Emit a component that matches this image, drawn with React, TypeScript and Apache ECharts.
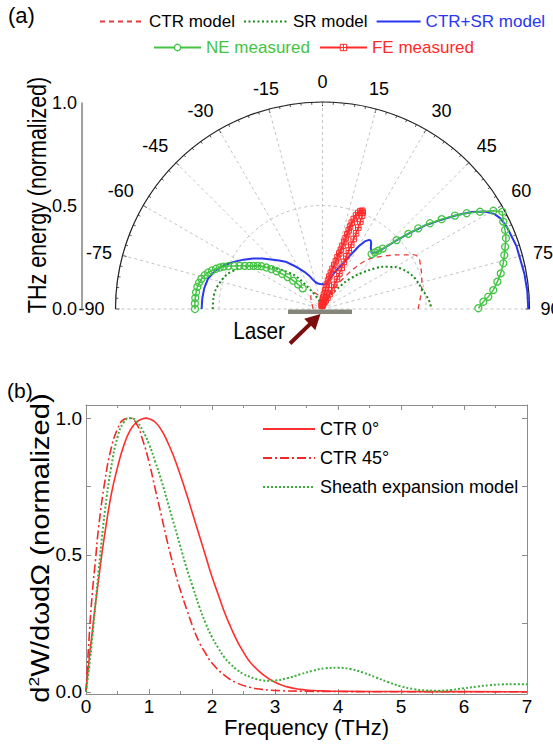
import React, { useEffect, useRef } from 'react';
import * as echarts from 'echarts';

const FF = "'Liberation Sans', Arial, sans-serif";

// ---------- (a) angular distribution: angle (deg) / normalized THz energy ----------
const ctrAngles = [-90, -75, -60, -45, -35, -28, -20, -10, 0, 10, 20, 28, 33, 37, 40, 43, 46, 50, 54, 57, 59, 61, 63, 66, 70, 75, 80, 85, 90];
const ctrEnergy = [0.045, 0.05, 0.06, 0.08, 0.09, 0.09, 0.075, 0.045, 0.02, 0.035, 0.06, 0.1, 0.16, 0.23, 0.285, 0.33, 0.36, 0.4, 0.445, 0.48, 0.51, 0.525, 0.526, 0.518, 0.509, 0.497, 0.485, 0.472, 0.462];

const srAngles = [-90, -85, -80, -75, -70, -65, -60, -55, -50, -45, -40, -37, -34, -30, -25, -20, -10, 0, 10, 20, 25, 30, 34, 37, 40, 45, 50, 55, 60, 65, 70, 75, 80, 85, 90];
const srEnergy = [0.53, 0.53, 0.525, 0.51, 0.49, 0.455, 0.415, 0.365, 0.31, 0.26, 0.215, 0.175, 0.13, 0.09, 0.06, 0.035, 0.01, 0, 0.01, 0.035, 0.055, 0.08, 0.1, 0.13, 0.17, 0.23, 0.29, 0.355, 0.405, 0.44, 0.465, 0.48, 0.495, 0.515, 0.527];

const sumAngles = [-90, -85, -80, -75, -70, -66, -62, -58, -54, -50, -46, -42, -38, -34, -30, -26, -22, -18, -14, -10, -5, 0, 5, 9, 13, 17, 21, 24.5, 27.5, 30, 32, 34, 35, 36.5, 38.5, 41.5, 43, 45, 47, 49, 51, 53, 55, 57, 59, 61, 63, 66, 72, 80, 85, 90];
const sumEnergy = [0.584, 0.583, 0.58, 0.572, 0.548, 0.52, 0.485, 0.45, 0.415, 0.38, 0.345, 0.315, 0.29, 0.255, 0.225, 0.2, 0.175, 0.148, 0.132, 0.125, 0.121, 0.12, 0.12, 0.123, 0.145, 0.175, 0.21, 0.243, 0.295, 0.35, 0.385, 0.403, 0.405, 0.395, 0.375, 0.359, 0.37, 0.41, 0.48, 0.56, 0.645, 0.715, 0.79, 0.86, 0.915, 0.948, 0.965, 0.975, 0.985, 0.99, 0.993, 0.994];

const neLeftAngles = [-90, -87.5, -85, -82.5, -80, -78, -76, -74, -72.3, -70.8, -69.3, -68, -66.8, -65.5, -64, -62.5, -61, -59.5, -58, -56.5, -55, -53.5, -52, -50.5, -49, -47.5, -46, -44.8, -43.8];
const neLeftEnergy = [0.616, 0.617, 0.617, 0.616, 0.614, 0.61, 0.603, 0.592, 0.58, 0.566, 0.55, 0.535, 0.52, 0.5, 0.474, 0.452, 0.43, 0.41, 0.393, 0.377, 0.36, 0.337, 0.313, 0.287, 0.258, 0.228, 0.197, 0.167, 0.138];
const neRightAngles = [41.8, 42.8, 43.7, 44.9, 47.1, 48.8, 49.9, 51.4, 53.0, 54.8, 56.4, 58.3, 60.1, 61.6, 64.2, 66.6, 68.9, 71.2, 73.5, 75.8, 78.7, 81.1, 83.7, 85.8, 87.4, 89.7];
const neRightEnergy = [0.356, 0.373, 0.39, 0.412, 0.489, 0.551, 0.605, 0.664, 0.721, 0.783, 0.836, 0.894, 0.952, 0.988, 0.97, 0.961, 0.95, 0.932, 0.916, 0.901, 0.878, 0.855, 0.83, 0.803, 0.778, 0.753];

const feAngles = [-12, -9, -6, -3, 0, 2, 4, 6, 8, 9, 10, 11, 12, 13, 14, 15, 15.6, 16.2, 16.8, 17.2, 17.6, 17.9, 18.1, 18.3, 18.4, 18.5, 18.7, 19.1, 19.7, 20.4, 21.2, 22, 22.6, 23, 23.4, 23.7, 23.9, 24, 24.1, 24.2, 24.3, 24.5, 24.9, 25.4, 25.9, 26, 25.7, 25.3, 23.5, 20, 15, 10, 5, 0, -5, -10];
const feEnergy = [0.015, 0.02, 0.025, 0.03, 0.035, 0.045, 0.055, 0.07, 0.09, 0.105, 0.12, 0.14, 0.16, 0.18, 0.2, 0.22, 0.24, 0.26, 0.28, 0.3, 0.32, 0.34, 0.36, 0.38, 0.4, 0.42, 0.44, 0.46, 0.48, 0.495, 0.507, 0.512, 0.505, 0.49, 0.46, 0.43, 0.4, 0.37, 0.34, 0.31, 0.28, 0.25, 0.22, 0.19, 0.16, 0.13, 0.1, 0.08, 0.06, 0.045, 0.035, 0.03, 0.025, 0.02, 0.018, 0.015];

const topYLabels = [0, 0.5, 1];
const topYStep = 0.5;

// ---------- (b) spectra: frequency (THz) / normalized d2W/dwdΩ ----------
const freqCtr0 = [0, 0.05, 0.1, 0.15, 0.2, 0.25, 0.3, 0.4, 0.5, 0.6, 0.7, 0.8, 0.9, 0.95, 1.0, 1.1, 1.2, 1.3, 1.4, 1.5, 1.6, 1.7, 1.8, 1.9, 2.0, 2.1, 2.2, 2.3, 2.4, 2.5, 2.6, 2.8, 3.0, 3.2, 3.4, 3.6, 3.8, 4.0, 5, 6, 7];
const valCtr0 = [0, 0.12, 0.22, 0.32, 0.41, 0.5, 0.58, 0.72, 0.82, 0.9, 0.955, 0.985, 0.998, 1.0, 0.998, 0.985, 0.955, 0.91, 0.855, 0.79, 0.72, 0.645, 0.57, 0.495, 0.42, 0.355, 0.29, 0.235, 0.185, 0.145, 0.11, 0.065, 0.035, 0.018, 0.009, 0.005, 0.003, 0.002, 0.001, 0.0005, 0];

const freqCtr45 = [0, 0.05, 0.1, 0.15, 0.2, 0.3, 0.4, 0.5, 0.6, 0.7, 0.8, 0.9, 1.0, 1.1, 1.2, 1.3, 1.4, 1.5, 1.6, 1.7, 1.8, 1.9, 2.0, 2.2, 2.4, 2.6, 2.8, 3.0, 3.5, 4, 5, 6, 7];
const valCtr45 = [0, 0.2, 0.36, 0.48, 0.6, 0.77, 0.89, 0.96, 0.995, 1.0, 0.98, 0.92, 0.84, 0.74, 0.64, 0.54, 0.45, 0.37, 0.3, 0.235, 0.18, 0.14, 0.105, 0.06, 0.032, 0.017, 0.009, 0.005, 0.002, 0.001, 0, 0, 0];

const freqSheath = [0, 0.05, 0.1, 0.15, 0.2, 0.3, 0.4, 0.5, 0.6, 0.7, 0.75, 0.8, 0.9, 1.0, 1.1, 1.2, 1.3, 1.4, 1.5, 1.6, 1.7, 1.8, 1.9, 2.0, 2.1, 2.2, 2.3, 2.4, 2.5, 2.6, 2.7, 2.8, 2.9, 3.0, 3.2, 3.4, 3.6, 3.8, 4.0, 4.2, 4.4, 4.6, 4.8, 5.0, 5.2, 5.4, 5.6, 5.8, 6.0, 6.2, 6.4, 6.6, 6.8, 7.0];
const valSheath = [0, 0.09, 0.2, 0.32, 0.44, 0.66, 0.82, 0.93, 0.985, 1.0, 0.998, 0.99, 0.955, 0.905, 0.84, 0.77, 0.69, 0.61, 0.53, 0.45, 0.38, 0.31, 0.25, 0.2, 0.16, 0.125, 0.1, 0.08, 0.065, 0.055, 0.047, 0.042, 0.04, 0.041, 0.05, 0.064, 0.077, 0.086, 0.088, 0.083, 0.07, 0.053, 0.035, 0.02, 0.01, 0.005, 0.004, 0.007, 0.013, 0.019, 0.024, 0.027, 0.028, 0.028];

const bottomYLabels = [0, 0.5, 1];
const bottomYTicks = [0, 0.25, 0.5, 0.75, 1];

const polarPts = (ang: number[], r: number[]) => ang.map((a, i) => [r[i], a]);
const xyPts = (x: number[], y: number[]) => x.map((v, i) => [v, y[i]]);

const C_CTR = '#e23b3b';
const C_SR = '#1a8a1a';
const C_SUM = '#2a36f2';
const C_NE = '#43c443';
const C_FE = '#ff2a2a';
const AXIS_GRAY = '#8c8c8c';
const GRID_GRAY = '#b4b4b4';

const FE_SYMBOL = 'path://M0 0H10V10H0Z M5 0V10 M0 5H10';
const HIDE_SYM = { opacity: 0 };

export default function App() {
  const ref = useRef<HTMLDivElement>(null);
  useEffect(() => {
    document.body.style.margin = '0';
    if (!ref.current) return;
    const chart = echarts.init(ref.current, undefined, { renderer: 'svg' });

    // arrow geometry (decoration)
    const tail = [290, 343.5];
    const tip = [320.5, 314];
    const L = Math.hypot(tip[0] - tail[0], tip[1] - tail[1]);
    const u = [(tip[0] - tail[0]) / L, (tip[1] - tail[1]) / L];
    const n = [-u[1], u[0]];
    const hl = 15, hw = 8, sw = 2;
    const base = [tip[0] - hl * u[0], tip[1] - hl * u[1]];
    const arrowPts = [
      [tail[0] + sw * n[0], tail[1] + sw * n[1]],
      [base[0] + sw * n[0], base[1] + sw * n[1]],
      [base[0] + hw * n[0], base[1] + hw * n[1]],
      tip,
      [base[0] - hw * n[0], base[1] - hw * n[1]],
      [base[0] - sw * n[0], base[1] - sw * n[1]],
      [tail[0] - sw * n[0], tail[1] - sw * n[1]],
    ];

    const option: any = {
      animation: false,
      backgroundColor: '#ffffff',
      textStyle: { fontFamily: FF },
      legend: [
        {
          data: [
            { name: 'CTR model', itemStyle: HIDE_SYM },
            { name: 'SR model', itemStyle: HIDE_SYM },
            { name: 'CTR+SR model', itemStyle: HIDE_SYM, textStyle: { color: C_SUM } },
          ],
          left: 94, top: 8, width: 470, itemWidth: 44, itemHeight: 10, itemGap: 8,
          textStyle: { fontFamily: FF, fontSize: 17, color: '#000' },
        },
        {
          data: [
            { name: 'NE measured', textStyle: { color: C_NE }, itemStyle: { color: '#fff', borderColor: C_NE, borderWidth: 1.3 } },
            { name: 'FE measured', textStyle: { color: C_FE }, itemStyle: { color: '#fff', borderColor: C_FE, borderWidth: 1 } },
          ],
          left: 148, top: 34, width: 400, itemWidth: 47, itemHeight: 8, itemGap: 9,
          textStyle: { fontFamily: FF, fontSize: 17 },
        },
        {
          data: [
            { name: 'CTR 0°', itemStyle: HIDE_SYM },
            { name: 'CTR 45°', itemStyle: HIDE_SYM },
            { name: 'Sheath expansion model', itemStyle: HIDE_SYM },
          ],
          orient: 'vertical', left: 257, top: 415, itemWidth: 52, itemHeight: 14, itemGap: 11,
          textStyle: { fontFamily: FF, fontSize: 18, color: '#000', lineHeight: 18 },
        },
      ],
      polar: { center: [322.5, 309], radius: 207 },
      angleAxis: {
        type: 'value', min: -90, max: 90, interval: 15,
        startAngle: 180, endAngle: 0, clockwise: true,
        axisLine: { lineStyle: { color: '#222', width: 1.2 } },
        axisTick: { show: true, inside: true, length: 4, lineStyle: { color: '#333' } },
        minorTick: { show: true, splitNumber: 5, length: 2.5, lineStyle: { color: '#555' } },
        axisLabel: { margin: 11, fontSize: 18, color: '#000', fontFamily: FF },
        splitLine: { show: true, lineStyle: { color: GRID_GRAY, type: [3, 3], width: 0.8 } },
      },
      radiusAxis: {
        type: 'value', min: 0, max: 1, interval: 0.5,
        axisLine: { show: false }, axisTick: { show: false }, axisLabel: { show: false },
        splitLine: { show: true, lineStyle: { color: GRID_GRAY, type: [3, 3], width: 0.8 } },
      },
      // vertical energy scale of panel (a): line and ticks
      singleAxis: {
        type: 'value', orient: 'vertical', position: 'left',
        left: 82, top: 103, height: 206, width: 20, min: 0, max: 1, interval: topYStep,
        axisLine: { show: true, lineStyle: { color: '#808080', width: 1.5 } },
        axisTick: { show: true, length: 4, lineStyle: { color: '#808080' } },
        minorTick: { show: true, splitNumber: 2, length: 3, lineStyle: { color: '#808080' } },
        axisLabel: { show: false },
        splitLine: { show: false }, splitArea: { show: false },
        axisPointer: { show: false },
      },
      grid: [
        { left: 86, right: 26, top: 405, bottom: 59 },
        { left: 82, top: 103, height: 206, width: 430, show: false },
      ],
      xAxis: [
        {
          gridIndex: 0, type: 'value', min: 0, max: 7, interval: 1, position: 'bottom',
          axisLine: { onZero: false, lineStyle: { color: AXIS_GRAY } },
          axisTick: { inside: true, length: 5, lineStyle: { color: AXIS_GRAY } },
          minorTick: { show: true, splitNumber: 2, length: 3, lineStyle: { color: AXIS_GRAY } },
          axisLabel: { fontSize: 19, color: '#000', margin: 3, fontFamily: FF },
          splitLine: { show: false },
          name: 'Frequency (THz)', nameLocation: 'middle', nameGap: 21,
          nameTextStyle: { fontSize: 22, color: '#000', fontFamily: FF },
        },
        {
          gridIndex: 0, type: 'value', min: 0, max: 7, interval: 1, position: 'top',
          axisLine: { onZero: false, lineStyle: { color: AXIS_GRAY } },
          axisTick: { inside: true, length: 5, lineStyle: { color: AXIS_GRAY } },
          minorTick: { show: true, splitNumber: 2, length: 3, lineStyle: { color: AXIS_GRAY } },
          axisLabel: { show: false }, splitLine: { show: false },
        },
        {
          gridIndex: 1, type: 'value', min: 0, max: 1, position: 'bottom',
          axisLine: { show: false, onZero: false }, axisTick: { show: false }, axisLabel: { show: false }, splitLine: { show: false },
        },
      ],
      yAxis: [
        {
          gridIndex: 0, type: 'value', min: -0.008, max: 1.048, position: 'left',
          axisLine: { show: true, onZero: false, lineStyle: { color: AXIS_GRAY } },
          axisTick: { show: true, inside: true, length: 5, customValues: bottomYTicks, lineStyle: { color: AXIS_GRAY } },
          axisLabel: {
            fontSize: 19, color: '#000', margin: 4, fontFamily: FF,
            customValues: bottomYLabels, formatter: (v: number) => v.toFixed(1),
          },
          splitLine: { show: false },
        },
        {
          gridIndex: 0, type: 'value', min: -0.008, max: 1.048, position: 'right',
          axisLine: { show: true, onZero: false, lineStyle: { color: AXIS_GRAY } },
          axisTick: { show: true, inside: true, length: 5, customValues: bottomYTicks, lineStyle: { color: AXIS_GRAY } },
          axisLabel: { show: false }, splitLine: { show: false },
        },
        {
          // labels of the panel (a) energy scale
          gridIndex: 1, type: 'value', min: 0, max: 1, position: 'left',
          axisLine: { show: false, onZero: false }, axisTick: { show: false },
          axisLabel: {
            fontSize: 18, color: '#000', margin: 5, fontFamily: FF,
            customValues: topYLabels, formatter: (v: number) => v.toFixed(1),
          },
          splitLine: { show: false },
        },
      ],
      series: [
        {
          name: 'CTR model', type: 'line', coordinateSystem: 'polar', symbol: 'none', smooth: 0.3,
          data: polarPts(ctrAngles, ctrEnergy),
          lineStyle: { color: C_CTR, width: 1.3, type: [5, 4] }, itemStyle: { color: C_CTR },
        },
        {
          name: 'SR model', type: 'line', coordinateSystem: 'polar', symbol: 'none', smooth: 0.3,
          data: polarPts(srAngles, srEnergy),
          lineStyle: { color: C_SR, width: 2, type: [2, 2.5] }, itemStyle: { color: C_SR },
        },
        {
          name: 'CTR+SR model', type: 'line', coordinateSystem: 'polar', symbol: 'none', smooth: false,
          data: polarPts(sumAngles, sumEnergy),
          lineStyle: { color: C_SUM, width: 2 }, itemStyle: { color: C_SUM },
        },
        {
          name: 'NE measured', type: 'line', coordinateSystem: 'polar', symbol: 'circle', symbolSize: 7,
          data: polarPts(neLeftAngles, neLeftEnergy),
          lineStyle: { color: C_NE, width: 1.5 },
          itemStyle: { color: 'rgba(255,255,255,0)', borderColor: C_NE, borderWidth: 1.3 },
        },
        {
          name: 'NE measured', type: 'line', coordinateSystem: 'polar', symbol: 'circle', symbolSize: 7,
          data: polarPts(neRightAngles, neRightEnergy),
          lineStyle: { color: C_NE, width: 1.5 },
          itemStyle: { color: 'rgba(255,255,255,0)', borderColor: C_NE, borderWidth: 1.3 },
        },
        {
          name: 'FE measured', type: 'line', coordinateSystem: 'polar', symbol: FE_SYMBOL, symbolSize: 5.5,
          data: polarPts(feAngles, feEnergy),
          lineStyle: { color: C_FE, width: 1.3 },
          itemStyle: { color: 'rgba(255,255,255,0)', borderColor: C_FE, borderWidth: 1 },
        },
        {
          name: 'CTR 0°', type: 'line', xAxisIndex: 0, yAxisIndex: 0, symbol: 'none', smooth: true,
          data: xyPts(freqCtr0, valCtr0),
          lineStyle: { color: '#ff2e2e', width: 1.6 }, itemStyle: { color: '#ff2e2e' },
        },
        {
          name: 'CTR 45°', type: 'line', xAxisIndex: 0, yAxisIndex: 0, symbol: 'none', smooth: true,
          data: xyPts(freqCtr45, valCtr45),
          lineStyle: { color: '#f02a2a', width: 1.6, type: [9, 3, 2, 3] }, itemStyle: { color: '#f02a2a' },
        },
        {
          name: 'Sheath expansion model', type: 'line', xAxisIndex: 0, yAxisIndex: 0, symbol: 'none', smooth: true,
          data: xyPts(freqSheath, valSheath),
          lineStyle: { color: '#3caf3c', width: 2, type: [2, 2] }, itemStyle: { color: '#3caf3c' },
        },
      ],
      graphic: [
        { type: 'text', left: 8, top: 4, style: { text: '(a)', font: `22px ${FF}`, fill: '#000' } },
        { type: 'text', left: 7, top: 380, style: { text: '(b)', font: `21px ${FF}`, fill: '#000' } },
        {
          type: 'text', x: 37, y: 195, rotation: Math.PI / 2, scaleX: 0.86,
          style: { text: 'THz energy (normalized)', font: `25px ${FF}`, fill: '#000', align: 'center', verticalAlign: 'middle' },
        },
        {
          type: 'text', x: 40, y: 548, rotation: Math.PI / 2, scaleX: 1.17,
          style: {
            text: '{a|d}{s|2}{a|W/dωdΩ (normalized)}', align: 'center', verticalAlign: 'middle', fill: '#000',
            rich: {
              a: { fontSize: 25, fontFamily: FF, fill: '#000', lineHeight: 28 },
              s: { fontSize: 15, fontFamily: FF, fill: '#000', verticalAlign: 'top', lineHeight: 28 },
            },
          },
        },
        {
          type: 'rect', z: 100, shape: { x: 288, y: 309.5, width: 64, height: 4.5 },
          style: { fill: '#85857c' },
        },
        {
          type: 'polygon', z: 100, shape: { points: arrowPts },
          style: { fill: '#7c0d0d' },
        },
        {
          type: 'text', z: 100, x: 285, y: 331, scaleX: 0.9,
          style: { text: 'Laser', font: `23px ${FF}`, fill: '#000', align: 'right', verticalAlign: 'middle' },
        },
      ],
    };
    chart.setOption(option);
    return () => chart.dispose();
  }, []);
  return <div ref={ref} style={{ width: 553, height: 753 }} />;
}
